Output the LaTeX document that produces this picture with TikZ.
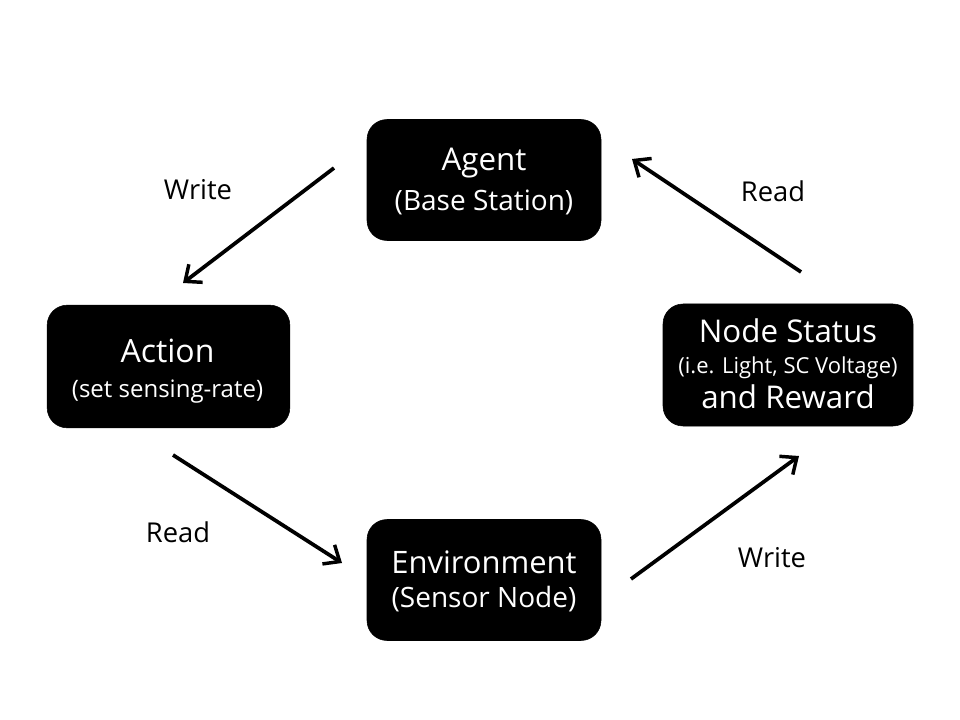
\documentclass[tikz,border=0pt]{standalone}
\usepackage{fontspec}
\setmainfont{Open Sans}
\usetikzlibrary{arrows.meta}
\begin{document}
\begin{tikzpicture}[x=0.75pt,y=-0.75pt,
  box/.style={fill=black,draw=black,rounded corners=15pt,inner sep=0pt},
  txt/.style={text=white,anchor=base,inner sep=0pt},
  conn/.style={line width=2.8pt,-{Straight Barb[length=10pt,width=17pt,line width=2.6pt]}},
  lab/.style={anchor=base,inner sep=0pt,font=\fontsize{20.5}{24}\selectfont}]
\useasboundingbox (0,0) rectangle (960,720);
% boxes
\node[box,minimum width=175.5pt,minimum height=90.75pt] (agent) at (484,180) {};
\node[box,minimum width=182pt,minimum height=92pt] (action) at (168.5,366.5) {};
\node[box,minimum width=187.5pt,minimum height=91.5pt] (status) at (788,365) {};
\node[box,minimum width=175.5pt,minimum height=90.75pt] (env) at (484,580) {};
% box texts
\node[txt,font=\fontsize{23.5}{28}\selectfont] (agent1) at (484,171) {Agent};
\node[txt,font=\fontsize{21}{26}\selectfont] (agent2) at (484,211) {(Base Station)};
\node[txt,font=\fontsize{24}{28}\selectfont] (action1) at (167.5,362) {Action};
\node[txt,font=\fontsize{18}{22}\selectfont] (action2) at (167.5,397) {(set sensing-rate)};
\node[txt,font=\fontsize{23.5}{28}\selectfont] (status1) at (788,342) {Node Status};
\node[txt,font=\fontsize{16.5}{20}\selectfont] (status2) at (788,373) {(i.e. Light, SC Voltage)};
\node[txt,font=\fontsize{23.5}{28}\selectfont] (status3) at (788,408) {and Reward};
\node[txt,font=\fontsize{23.2}{28}\selectfont] (env1) at (484,573) {Environment};
\node[txt,font=\fontsize{21}{26}\selectfont] (env2) at (484,607) {(Sensor Node)};
% connectors
\coordinate (w1s) at (334,168); \coordinate (w1e) at (183,283);
\coordinate (r1s) at (801,272); \coordinate (r1e) at (632,159);
\coordinate (r2s) at (173,455); \coordinate (r2e) at (342,563);
\coordinate (w2s) at (631,579); \coordinate (w2e) at (799,456);
\draw[conn] (w1s) -- (w1e);
\draw[conn] (r1s) -- (r1e);
\draw[conn] (r2s) -- (r2e);
\draw[conn] (w2s) -- (w2e);
\node[lab] (lw1) at (198,200) {Write};
\node[lab] (lr1) at (773,202) {Read};
\node[lab] (lr2) at (178,542) {Read};
\node[lab] (lw2) at (772,567) {Write};
\end{tikzpicture}
\end{document}
